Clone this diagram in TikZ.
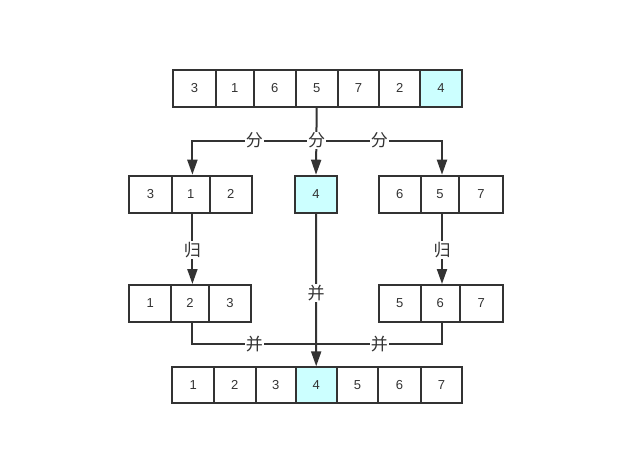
\documentclass[tikz,border=0pt]{standalone}
\usepackage{fontspec}
\setmainfont{Liberation Sans}
\newfontfamily\cjk{Noto Sans CJK SC}
\usetikzlibrary{arrows.meta}
\definecolor{ink}{HTML}{333333}
\definecolor{hl}{HTML}{CCFFFF}
\tikzset{
  cell/.style={draw=ink,line width=2pt,inner sep=0pt,text=ink,font=\fontsize{13}{15}\selectfont},
  link/.style={draw=ink,line width=2pt},
  arr/.style={link,-{Triangle[length=15pt,width=10pt]}},
  lbl/.style={fill=white,text=ink,inner sep=1pt,font=\cjk\fontsize{17}{19}\selectfont}
}
\newcommand\mycell[7][white]{\node[cell,fill=#1,minimum width={(#4-#3)*1pt},minimum height={(#6-#5)*1pt}] (#2) at ({(#3+#4)/2},{(#5+#6)/2}) {#7};}
\begin{document}
\begin{tikzpicture}[x=1pt,y=-1pt]
\useasboundingbox (0,0) rectangle (631,467);
% top row
\mycell{t1}{173.3}{215.7}{70}{106.7}{3}
\mycell{t2}{215.7}{254}{70}{106.7}{1}
\mycell{t3}{254}{295.7}{70}{106.7}{6}
\mycell{t4}{295.7}{337.7}{70}{106.7}{5}
\mycell{t5}{337.7}{379.3}{70}{106.7}{7}
\mycell{t6}{379.3}{420.3}{70}{106.7}{2}
\mycell[hl]{t7}{420.3}{461.7}{70}{106.7}{4}
% row 2
\mycell{l1}{129.3}{171.7}{175.7}{212.7}{3}
\mycell{l2}{171.7}{210}{175.7}{212.7}{1}
\mycell{l3}{210}{251.7}{175.7}{212.7}{2}
\mycell[hl]{m}{295}{337}{175.7}{212.7}{4}
\mycell{r1}{379}{420.7}{175.7}{212.7}{6}
\mycell{r2}{420.7}{459.3}{175.7}{212.7}{5}
\mycell{r3}{459.3}{502.7}{175.7}{212.7}{7}
% row 3
\mycell{ll1}{129.3}{171}{285}{321.7}{1}
\mycell{ll2}{171}{209}{285}{321.7}{2}
\mycell{ll3}{209}{251}{285}{321.7}{3}
\mycell{rr1}{379}{420.7}{285}{321.7}{5}
\mycell{rr2}{420.7}{460}{285}{321.7}{6}
\mycell{rr3}{460}{502.7}{285}{321.7}{7}
% row 4
\mycell{b1}{172.3}{214}{367.3}{403.3}{1}
\mycell{b2}{214}{255.7}{367.3}{403.3}{2}
\mycell{b3}{255.7}{295.7}{367.3}{403.3}{3}
\mycell[hl]{b4}{295.7}{336.7}{367.3}{403.3}{4}
\mycell{b5}{336.7}{378.3}{367.3}{403.3}{5}
\mycell{b6}{378.3}{420.7}{367.3}{403.3}{6}
\mycell{b7}{420.7}{462.3}{367.3}{403.3}{7}
% connectors
\coordinate (ax) at (192.4,0);
\coordinate (bx) at (442,0);
\coordinate (j) at (316.5,140.7);
\coordinate (k) at (316.5,344.3);
\draw[arr] (j) -| node[lbl,pos=0.25] {分} (ax |- l2.north);
\draw[arr] (j) -| node[lbl,pos=0.25] {分} (bx |- r2.north);
\draw[arr] (t4.south) -- (m.north);
\node[lbl] (jl) at (j) {分};
\draw[arr] (ax |- l2.south) -- node[lbl,pos=0.52] {归} (ax |- ll2.north);
\draw[arr] (bx |- r2.south) -- node[lbl,pos=0.52] {归} (bx |- rr2.north);
\draw[link] (ax |- ll2.south) |- node[lbl,pos=0.75] {并} (k);
\draw[link] (bx |- rr2.south) |- node[lbl,pos=0.75] {并} (k);
\draw[arr] (m.south) -- node[lbl,pos=0.52] {并} (b4.north);
\end{tikzpicture}
\end{document}
